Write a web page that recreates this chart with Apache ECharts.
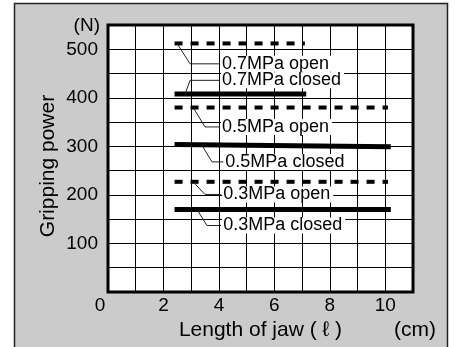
<!DOCTYPE html>
<html>
<head>
<meta charset="utf-8">
<script src="https://cdn.jsdelivr.net/npm/echarts@6/dist/echarts.min.js"></script>
<style>
html,body{margin:0;padding:0;background:#fff;}
#c{width:455px;height:347px;}
</style>
</head>
<body>
<div id="c"></div>
<script>
// ---- data ----
const xTicks = [0, 2, 4, 6, 8, 10];
const yTicks = [100, 200, 300, 400, 500];
const seriesNames = ['0.7MPa open', '0.7MPa closed', '0.5MPa open', '0.5MPa closed', '0.3MPa open', '0.3MPa closed'];
const open07   = [[2.4, 512], [7.1, 512]];
const closed07 = [[2.4, 408], [7.15, 408]];
const open05   = [[2.4, 380], [10.1, 380]];
const closed05 = [[2.4, 304], [10.2, 299]];
const open03   = [[2.4, 227], [10.1, 227]];
const closed03 = [[2.4, 170], [10.2, 170]];
// leader lines for the labels (annotation anchors, data units)
const leader07open   = [[2.49, 512], [2.96, 470], [4.04, 470]];
const leader07closed = [[2.78, 408], [2.96, 436], [4.04, 436]];
const leader05open   = [[3.07, 380], [3.50, 340], [4.04, 340]];
const leader05closed = [[3.39, 302], [3.75, 268], [4.16, 268]];
const leader03open   = [[3.07, 227], [3.50, 201], [4.08, 201]];
const leader03closed = [[3.21, 170], [3.57, 137], [4.08, 137]];

const lines = [open07, closed07, open05, closed05, open03, closed03];
const leaders = [leader07open, leader07closed, leader05open, leader05closed, leader03open, leader03closed];
const FONT = 'Liberation Sans, Arial, Helvetica, sans-serif';

const chart = echarts.init(document.getElementById('c'), null, {renderer: 'canvas'});

const series = [];
lines.forEach((d, i) => {
  const isOpen = i % 2 === 0;
  series.push({
    name: seriesNames[i],
    type: 'line',
    data: d,
    symbol: 'none',
    silent: true,
    z: 3,
    lineStyle: {
      color: '#000',
      width: isOpen ? 4 : 5,
      type: isOpen ? [8, 8] : 'solid',
      cap: 'butt'
    }
  });
});
leaders.forEach((d, i) => {
  series.push({
    name: seriesNames[i],
    type: 'line',
    data: d,
    symbol: 'none',
    silent: true,
    z: 4,
    lineStyle: {color: '#222', width: 1},
    endLabel: {
      show: true,
      distance: 1,
      formatter: seriesNames[i],
      color: '#000',
      fontSize: 18,
      fontFamily: FONT,
      lineHeight: 16,
      backgroundColor: '#fff',
      padding: [0, 3, 0, 1]
    }
  });
});

chart.setOption({
  animation: false,
  backgroundColor: '#fff',
  graphic: [
    {type: 'rect', z: -10, shape: {x: 14.5, y: 3.5, width: 433, height: 360},
     style: {fill: '#cbcbcb', stroke: '#222', lineWidth: 1.5}},
    {type: 'text', z: 10, x: 100, y: 26,
     style: {text: '(N)', fontSize: 19, fontFamily: FONT, fill: '#000', align: 'right', verticalAlign: 'middle'}},
    {type: 'text', z: 10, x: 436, y: 330,
     style: {text: '(cm)', fontSize: 21, fontFamily: FONT, fill: '#000', align: 'right', verticalAlign: 'middle'}},
    {type: 'text', z: 10, x: 48, y: 166, rotation: Math.PI / 2,
     style: {text: 'Gripping power', fontSize: 21, fontFamily: FONT, fill: '#000', align: 'center', verticalAlign: 'middle'}}
  ],
  grid: {left: 108, top: 25, right: 42, bottom: 55, show: true, backgroundColor: '#fff', borderColor: '#000', borderWidth: 3},
  xAxis: {
    type: 'value', min: 0, max: 11, interval: 1,
    name: 'Length of jaw ( ℓ )', nameLocation: 'middle', nameGap: 27,
    nameTextStyle: {fontSize: 21, fontFamily: FONT, color: '#000'},
    axisLine: {show: false}, axisTick: {show: false},
    axisLabel: {
      margin: 4, fontSize: 19, fontFamily: FONT, color: '#000',
      formatter: v => xTicks.indexOf(v) < 0 ? '' : (v === 0 ? '{z|0}' : String(v)),
      rich: {z: {fontSize: 19, fontFamily: FONT, color: '#000', padding: [0, 16, 0, 0]}}
    },
    splitLine: {show: true, lineStyle: {color: '#000', width: 1}}
  },
  yAxis: {
    type: 'value', min: 0, max: 550, interval: 50,
    axisLine: {show: false}, axisTick: {show: false},
    axisLabel: {
      margin: 10, fontSize: 19, fontFamily: FONT, color: '#000',
      formatter: v => yTicks.indexOf(v) < 0 ? '' : String(v)
    },
    splitLine: {show: true, lineStyle: {color: '#000', width: 1}}
  },
  series: series
});
</script>
</body>
</html>
